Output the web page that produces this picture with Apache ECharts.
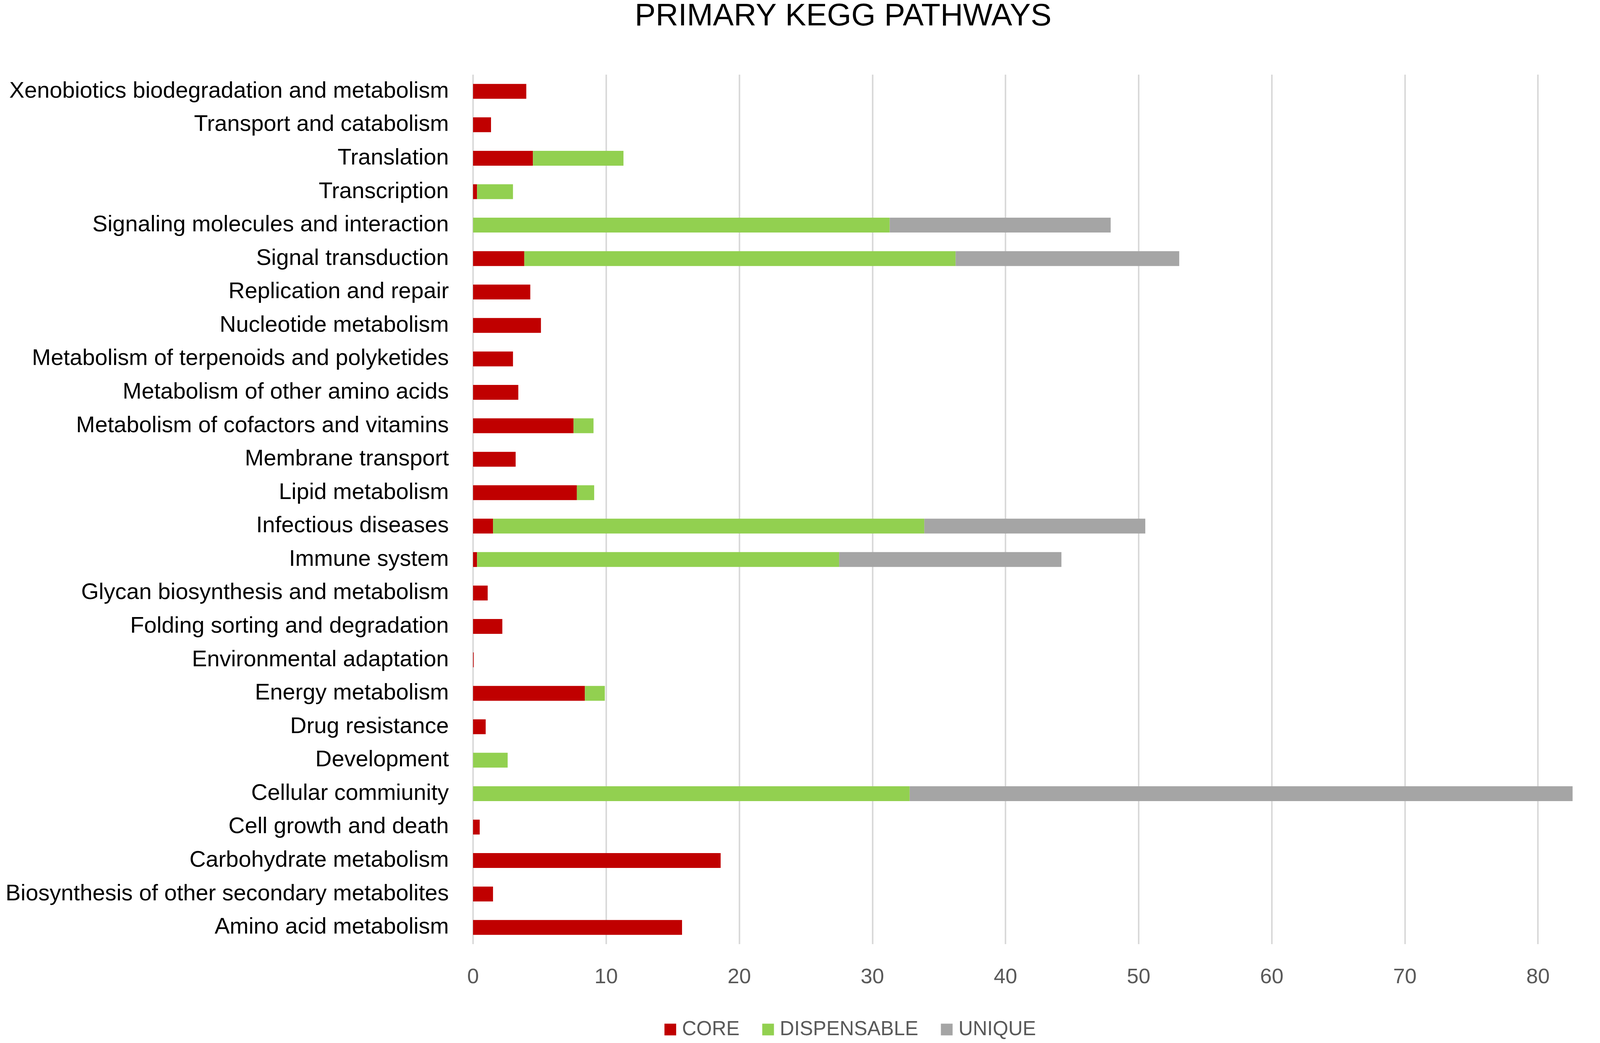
<!DOCTYPE html>
<html>
<head>
<meta charset="utf-8">
<script src="https://cdn.jsdelivr.net/npm/echarts@6/dist/echarts.min.js"></script>
<style>
  html, body { margin: 0; padding: 0; background: #fff; overflow: hidden; }
  #chart { width: 4317px; height: 2669px; }
</style>
</head>
<body>
<div id="chart"></div>
<script>
// categories, bottom to top (as drawn on the category axis)
var categories = [
    'Amino acid metabolism',
    'Biosynthesis of other secondary metabolites',
    'Carbohydrate metabolism',
    'Cell growth and death',
    'Cellular commiunity',
    'Development',
    'Drug resistance',
    'Energy metabolism',
    'Environmental adaptation',
    'Folding sorting and degradation',
    'Glycan biosynthesis and metabolism',
    'Immune system',
    'Infectious diseases',
    'Lipid metabolism',
    'Membrane transport',
    'Metabolism of cofactors and vitamins',
    'Metabolism of other amino acids',
    'Metabolism of terpenoids and polyketides',
    'Nucleotide metabolism',
    'Replication and repair',
    'Signal transduction',
    'Signaling molecules and interaction',
    'Transcription',
    'Translation',
    'Transport and catabolism',
    'Xenobiotics biodegradation and metabolism'
];

var coreValues = [15.7, 1.5, 18.6, 0.5, 0, 0, 0.95, 8.4, 0.05, 2.2, 1.1, 0.3, 1.5, 7.8, 3.2, 7.55, 3.4, 3.0, 5.1, 4.3, 3.85, 0, 0.3, 4.5, 1.35, 4.0];
var dispensableValues = [0, 0, 0, 0, 32.8, 2.6, 0, 1.5, 0, 0, 0, 27.2, 32.4, 1.3, 0, 1.5, 0, 0, 0, 0, 32.4, 31.3, 2.7, 6.8, 0, 0];
var uniqueValues = [0, 0, 0, 0, 49.8, 0, 0, 0, 0, 0, 0, 16.7, 16.6, 0, 0, 0, 0, 0, 0, 0, 16.8, 16.6, 0, 0, 0, 0];

var xTicks = [0, 10, 20, 30, 40, 50, 60, 70, 80, 90];

var fontName = 'Liberation Sans';

var chart = echarts.init(document.getElementById('chart'));

function makeSeries(name, data, color) {
    return {
        name: name,
        type: 'bar',
        stack: 'total',
        data: data,
        barWidth: 38,
        itemStyle: { color: color },
        emphasis: { disabled: true }
    };
}

chart.setOption({
    animation: false,
    backgroundColor: '#ffffff',
    title: {
        text: 'PRIMARY KEGG PATHWAYS',
        left: 'center',
        top: -2,
        textStyle: { fontFamily: fontName, fontSize: 80, fontWeight: 'normal', color: '#000000' }
    },
    legend: {
        bottom: 4,
        left: 1696,
        itemWidth: 30,
        itemHeight: 30,
        itemGap: 58,
        icon: 'rect',
        textStyle: { fontFamily: fontName, fontSize: 51, color: '#595959', padding: [0, 0, 0, 10] },
        data: ['CORE', 'DISPENSABLE', 'UNIQUE']
    },
    grid: {
        left: 1211,
        right: 39,
        top: 191,
        bottom: 253,
        containLabel: false
    },
    xAxis: {
        type: 'value',
        min: xTicks[0],
        max: xTicks[xTicks.length - 1],
        interval: 10,
        axisLine: { show: false },
        axisTick: { show: false },
        axisLabel: {
            margin: 58,
            fontFamily: fontName,
            fontSize: 54,
            color: '#595959'
        },
        splitLine: { show: true, lineStyle: { color: '#d9d9d9', width: 4 } }
    },
    yAxis: {
        type: 'category',
        data: categories,
        axisLine: { show: false },
        axisTick: { show: false },
        axisLabel: {
            margin: 62,
            fontFamily: fontName,
            fontSize: 58,
            color: '#000000'
        }
    },
    series: [
        makeSeries('CORE', coreValues, '#C00000'),
        makeSeries('DISPENSABLE', dispensableValues, '#92D050'),
        makeSeries('UNIQUE', uniqueValues, '#A5A5A5')
    ]
});
</script>
</body>
</html>
